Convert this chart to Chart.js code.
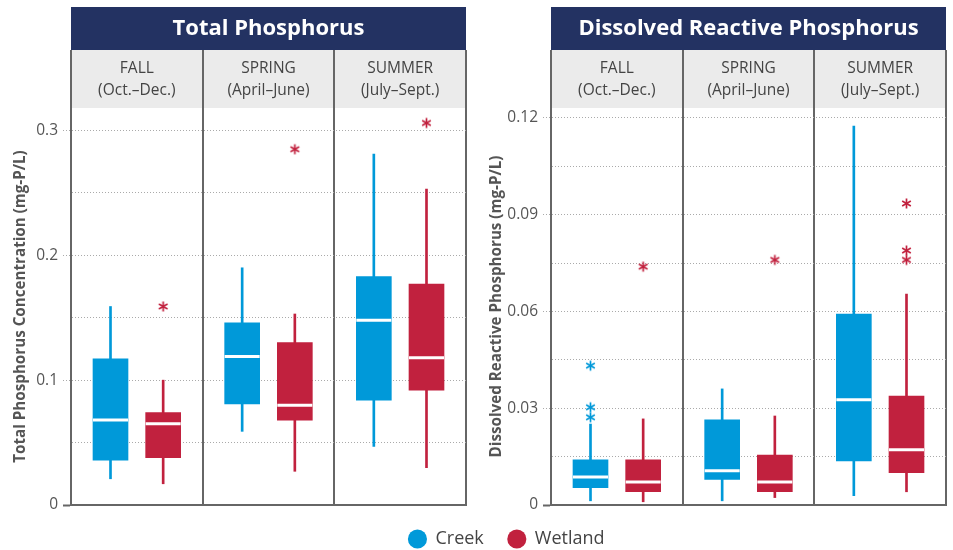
<!DOCTYPE html>
<html lang="en">
<head>
<meta charset="UTF-8">
<title>Phosphorus box plots</title>
<script src="https://cdn.jsdelivr.net/npm/chart.js"></script>
<style>
  body { margin: 0; background: #fff; overflow: hidden; }
  canvas { position: absolute; }
</style>
</head>
<body>
<canvas id="tpChart" width="476" height="520" style="left:0;top:0"></canvas>
<canvas id="drpChart" width="477" height="520" style="left:476px;top:0"></canvas>
<canvas id="legendChart" width="893" height="100" style="left:60px;top:505px"></canvas>
<script>
const seasons = [['FALL', '(Oct.–Dec.)'], ['SPRING', '(April–June)'], ['SUMMER', '(July–Sept.)']];
const seriesNames = ['Creek', 'Wetland'];
const seriesColors = ['#0099d9', '#c1213e'];

// each season: [whisker low, q1, median, q3, whisker high]
const tpCreek = [[0.021, 0.036, 0.068, 0.117, 0.159], [0.059, 0.081, 0.119, 0.146, 0.190], [0.047, 0.084, 0.148, 0.183, 0.281]];
const tpWetland = [[0.017, 0.038, 0.065, 0.074, 0.100], [0.027, 0.068, 0.080, 0.130, 0.153], [0.030, 0.092, 0.118, 0.177, 0.253]];
const tpCreekOutliers = [[], [], []];
const tpWetlandOutliers = [[0.159], [0.285], [0.306]];
const tpTickLabels = ['0', '0.1', '0.2', '0.3'];

const drpCreek = [[0.0013, 0.0054, 0.0087, 0.0140, 0.0251], [0.0013, 0.0079, 0.0106, 0.0264, 0.0360], [0.0029, 0.0137, 0.0326, 0.0592, 0.1175]];
const drpWetland = [[0.0010, 0.0041, 0.0071, 0.0140, 0.0267], [0.0023, 0.0041, 0.0071, 0.0155, 0.0276], [0.0041, 0.0100, 0.0171, 0.0338, 0.0654]];
const drpCreekOutliers = [[0.0432, 0.0303, 0.0272], [], []];
const drpWetlandOutliers = [[0.0739], [0.0760], [0.0935, 0.0789, 0.0760]];
const drpTickLabels = ['0', '0.03', '0.06', '0.09', '0.12'];

const navy = '#233262';
const frame = '#666';
Chart.defaults.font.family = '"Open Sans", sans-serif';

// asterisk marker for outliers
function asterisk(color) {
  const c = document.createElement('canvas');
  c.width = 13; c.height = 13;
  const g = c.getContext('2d');
  g.strokeStyle = color;
  g.lineWidth = 1.7;
  g.translate(6.5, 6.5);
  [90, 30, 150].forEach(a => {
    const r = a * Math.PI / 180;
    g.beginPath();
    g.moveTo(-5 * Math.cos(r), -5 * Math.sin(r));
    g.lineTo(5 * Math.cos(r), 5 * Math.sin(r));
    g.stroke();
  });
  return c;
}

const titleBar = {
  id: 'titleBar',
  beforeDraw(chart) {
    const b = chart.titleBlock;
    const ctx = chart.ctx;
    ctx.save();
    ctx.fillStyle = navy;
    ctx.fillRect(b.left, b.top, b.width, b.height);
    ctx.restore();
  }
};

function seriesDatasets(boxes, outliers, color, shift) {
  const pos = i => i + shift;
  return [
    {
      type: 'scatter', order: 0,
      data: boxes.map((b, i) => ({x: pos(i), y: b[2]})),
      pointStyle: 'line', radius: 17.5, borderColor: '#fff', borderWidth: 3
    },
    {
      type: 'scatter', order: 0,
      data: outliers.flatMap((vals, i) => vals.map(v => ({x: pos(i), y: v}))),
      pointStyle: asterisk(color), radius: 6
    },
    {
      type: 'bar', order: 1, grouped: false, barThickness: 35,
      data: boxes.map((b, i) => ({x: pos(i), y: [b[1], b[3]]})),
      backgroundColor: color
    },
    {
      type: 'bar', order: 2, grouped: false, barThickness: 2,
      data: boxes.map((b, i) => ({x: pos(i), y: [b[0], b[4]]})),
      backgroundColor: color
    }
  ];
}

function makeChart(id, title, yTitle, creek, wetland, creekOut, wetlandOut, yMax, step, tickLabels, axisWidth, padRight) {
  new Chart(document.getElementById(id), {
    type: 'bar',
    data: {
      datasets: [
        ...seriesDatasets(creek, creekOut, seriesColors[0], -0.2),
        ...seriesDatasets(wetland, wetlandOut, seriesColors[1], 0.2)
      ]
    },
    options: {
      responsive: false,
      animation: false,
      events: [],
      layout: { autoPadding: false, padding: { top: 7, left: 0, right: padRight, bottom: 15 } },
      plugins: {
        legend: { display: false },
        tooltip: { enabled: false },
        title: {
          display: true, text: title, color: '#fff', fullSize: false,
          font: { size: 22, weight: 'bold' },
          padding: { top: 8.5, bottom: 8.1 }
        }
      },
      scales: {
        x: {
          type: 'linear', min: -0.5, max: 2.5, offset: false,
          ticks: { display: false },
          grid: { display: false },
          border: { display: true, color: frame, width: 2 },
          afterFit: s => { s.height = 0; }
        },
        xTop: {
          type: 'category', position: 'top', labels: seasons,
          offset: true,
          grid: {
            offset: true, color: frame, lineWidth: 2,
            tickLength: 58, tickColor: frame, tickWidth: 2
          },
          border: { display: false },
          backgroundColor: '#ebebeb',
          ticks: {
            color: '#444', font: { size: 15.5, lineHeight: 1.38 },
            padding: -51, maxRotation: 0, autoSkip: false
          },
          afterFit: s => { s.height = 58; }
        },
        y: {
          min: 0, max: yMax,
          ticks: {
            stepSize: step, includeBounds: false, padding: 5,
            color: '#555', font: { size: 15.5 },
            callback: (v, i) => i % 2 ? '' : tickLabels[i / 2]
          },
          grid: {
            color: c => c.tick.value === 0 ? 'rgba(0,0,0,0)' : '#aaa',
            tickLength: 8,
            tickColor: c => c.index % 2 ? 'rgba(0,0,0,0)' : (c.tick.value === 0 ? frame : '#aaa'),
            tickWidth: c => c.tick.value === 0 ? 2 : 1,
            tickBorderDash: c => c.tick.value === 0 ? [] : [1, 2]
          },
          border: { display: true, color: frame, width: 2, dash: [1, 2] },
          title: {
            display: true, text: yTitle, color: '#555',
            font: { size: 15.2, weight: 'bold' },
            padding: { top: 12, bottom: 0 }
          },
          afterFit: s => { s.width = axisWidth; }
        }
      }
    },
    plugins: [titleBar]
  });
}

makeChart('tpChart', 'Total Phosphorus', 'Total Phosphorus Concentration (mg-P/L)',
  tpCreek, tpWetland, tpCreekOutliers, tpWetlandOutliers, 0.318, 0.05, tpTickLabels, 71, 10);
makeChart('drpChart', 'Dissolved Reactive Phosphorus', 'Dissolved Reactive Phosphorus (mg-P/L)',
  drpCreek, drpWetland, drpCreekOutliers, drpWetlandOutliers, 0.1231, 0.015, drpTickLabels, 75, 7);

new Chart(document.getElementById('legendChart'), {
  type: 'bar',
  data: {
    labels: [],
    datasets: seriesNames.map((n, i) => ({ label: n, data: [], backgroundColor: seriesColors[i] }))
  },
  options: {
    responsive: false,
    animation: false,
    events: [],
    layout: { padding: { top: 1 } },
    scales: { x: { display: false }, y: { display: false } },
    plugins: {
      tooltip: { enabled: false },
      legend: {
        position: 'top',
        labels: {
          usePointStyle: true, pointStyle: 'circle',
          boxWidth: 18, boxHeight: 13.5, padding: 24,
          color: '#444', font: { size: 18 }
        }
      }
    }
  }
});
</script>
</body>
</html>
